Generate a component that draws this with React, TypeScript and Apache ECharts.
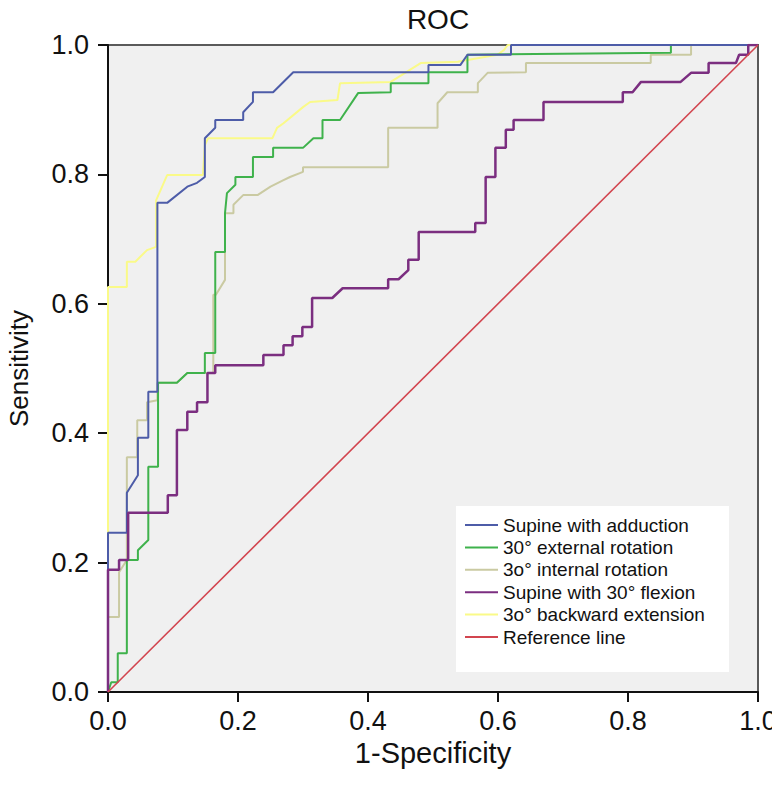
import React, { useEffect, useRef } from "react";
import * as echarts from "echarts";

const TITLE = "ROC";
const X_NAME = "1-Specificity";
const Y_NAME = "Sensitivity";

const seriesNames = [
  "Supine with adduction",
  "30° external rotation",
  "3o° internal rotation",
  "Supine with 30° flexion",
  "3o° backward extension",
  "Reference line",
];

const seriesColors = ["#4d5ca8", "#3fb24c", "#cacaa2", "#7b2e80", "#fafa88", "#d2454f"];

// [1-specificity, sensitivity]
const supineAdduction: [number, number][] = [
  [0, 0], [0, 0.246], [0.029, 0.246], [0.029, 0.308], [0.046, 0.335], [0.046, 0.393],
  [0.062, 0.393], [0.062, 0.464], [0.076, 0.464], [0.076, 0.756], [0.091, 0.756],
  [0.122, 0.781], [0.137, 0.787], [0.149, 0.796], [0.149, 0.856], [0.165, 0.872],
  [0.165, 0.884], [0.208, 0.884], [0.208, 0.896], [0.223, 0.912], [0.223, 0.927],
  [0.254, 0.927], [0.285, 0.958], [0.493, 0.958], [0.493, 0.969], [0.542, 0.969],
  [0.553, 0.985], [0.62, 0.985], [0.62, 1.0], [1, 1],
];

const externalRotation: [number, number][] = [
  [0, 0], [0.005, 0.015], [0.015, 0.015], [0.015, 0.06], [0.029, 0.06], [0.029, 0.204],
  [0.046, 0.204], [0.046, 0.219], [0.062, 0.235], [0.062, 0.348], [0.077, 0.348],
  [0.077, 0.478], [0.106, 0.478], [0.122, 0.493], [0.149, 0.493], [0.149, 0.524],
  [0.165, 0.524], [0.165, 0.68], [0.18, 0.68], [0.18, 0.74], [0.183, 0.771],
  [0.196, 0.784], [0.196, 0.796], [0.223, 0.796], [0.223, 0.827], [0.254, 0.827],
  [0.254, 0.841], [0.3, 0.841], [0.316, 0.856], [0.33, 0.856], [0.33, 0.884],
  [0.357, 0.884], [0.385, 0.926], [0.435, 0.927], [0.435, 0.941], [0.493, 0.941],
  [0.493, 0.958], [0.553, 0.958], [0.553, 0.985], [0.866, 0.988], [0.866, 1.0], [1, 1],
];

const internalRotation: [number, number][] = [
  [0, 0], [0, 0.116], [0.017, 0.116], [0.017, 0.185], [0.029, 0.204], [0.029, 0.363],
  [0.045, 0.363], [0.045, 0.42], [0.06, 0.42], [0.06, 0.448], [0.076, 0.451],
  [0.076, 0.478], [0.106, 0.478], [0.122, 0.493], [0.162, 0.493], [0.162, 0.614],
  [0.166, 0.614], [0.18, 0.637], [0.18, 0.74], [0.193, 0.74], [0.193, 0.753],
  [0.208, 0.768], [0.23, 0.768], [0.25, 0.781], [0.27, 0.791], [0.28, 0.796],
  [0.3, 0.804], [0.3, 0.811], [0.431, 0.811], [0.431, 0.872], [0.507, 0.872],
  [0.507, 0.91], [0.522, 0.927], [0.569, 0.927], [0.569, 0.941], [0.584, 0.957],
  [0.643, 0.958], [0.643, 0.972], [0.835, 0.972], [0.835, 0.985], [0.897, 0.985],
  [0.897, 1.0], [1, 1],
];

const supineFlexion: [number, number][] = [
  [0, 0], [0, 0.189], [0.017, 0.189], [0.017, 0.204], [0.031, 0.204], [0.031, 0.277],
  [0.092, 0.277], [0.092, 0.304], [0.106, 0.304], [0.106, 0.405], [0.122, 0.405],
  [0.122, 0.433], [0.137, 0.433], [0.137, 0.448], [0.153, 0.448], [0.153, 0.493],
  [0.165, 0.493], [0.165, 0.505], [0.239, 0.505], [0.239, 0.521], [0.27, 0.521],
  [0.27, 0.536], [0.284, 0.536], [0.284, 0.55], [0.299, 0.55], [0.299, 0.564],
  [0.314, 0.564], [0.314, 0.609], [0.345, 0.609], [0.361, 0.624], [0.431, 0.624],
  [0.431, 0.638], [0.447, 0.638], [0.462, 0.652], [0.462, 0.668], [0.478, 0.668],
  [0.478, 0.711], [0.565, 0.711], [0.565, 0.725], [0.581, 0.725], [0.581, 0.796],
  [0.596, 0.796], [0.596, 0.841], [0.612, 0.841], [0.612, 0.869], [0.624, 0.869],
  [0.624, 0.884], [0.67, 0.884], [0.67, 0.912], [0.792, 0.912], [0.792, 0.927],
  [0.807, 0.927], [0.82, 0.943], [0.881, 0.943], [0.897, 0.957], [0.924, 0.957],
  [0.924, 0.972], [0.966, 0.972], [0.971, 0.985], [0.985, 0.985], [0.985, 1.0], [1, 1],
];

const backwardExtension: [number, number][] = [
  [0, 0], [0, 0.626], [0.029, 0.626], [0.029, 0.665], [0.042, 0.665], [0.06, 0.683],
  [0.074, 0.688], [0.074, 0.76], [0.091, 0.799], [0.146, 0.799], [0.149, 0.845],
  [0.154, 0.856], [0.253, 0.856], [0.26, 0.872], [0.27, 0.879], [0.3, 0.904],
  [0.311, 0.912], [0.353, 0.915], [0.357, 0.941], [0.435, 0.943], [0.481, 0.972],
  [0.538, 0.974], [0.599, 0.985], [0.609, 0.992], [0.615, 1.0], [1, 1],
];

const referenceLine: [number, number][] = [[0, 0], [1, 1]];

const seriesData = [
  supineAdduction,
  externalRotation,
  internalRotation,
  supineFlexion,
  backwardExtension,
  referenceLine,
];

// drawing order (bottom to top)
const drawOrder = [2, 4, 1, 0, 3, 5];
const lineWidths = [2, 2, 2, 2.5, 2, 1.6];

const FONT = "'Liberation Sans', Arial, Helvetica, sans-serif";

export default function App() {
  const ref = useRef<HTMLDivElement>(null);

  useEffect(() => {
    if (!ref.current) return;
    const chart = echarts.init(ref.current, undefined, { renderer: "svg" });

    const axisCommon = {
      type: "value" as const,
      min: 0,
      max: 1,
      interval: 0.2,
      splitLine: { show: false },
      axisLine: { show: true, lineStyle: { color: "#111", width: 2 } },
      axisTick: { show: true, inside: false, length: 10, lineStyle: { color: "#111", width: 2 } },
    };

    chart.setOption({
      animation: false,
      backgroundColor: "#ffffff",
      title: {
        text: TITLE,
        left: 433,
        textAlign: "center",
        top: 0,
        textStyle: { fontFamily: FONT, fontSize: 28, fontWeight: "normal", color: "#111" },
      },
      grid: {
        left: 108,
        top: 45,
        width: 650,
        height: 647,
        show: true,
        containLabel: false,
        outerBoundsMode: "none",
        backgroundColor: "#f0f0f0",
        borderColor: "#5a5a5a",
        borderWidth: 2,
      },
      xAxis: {
        ...axisCommon,
        name: X_NAME,
        nameLocation: "middle",
        nameGap: 31,
        nameTextStyle: { fontFamily: FONT, fontSize: 29, color: "#111" },
        axisLabel: {
          margin: 15,
          fontFamily: FONT,
          fontSize: 27,
          color: "#111",
          formatter: (v: number) => v.toFixed(1),
        },
      },
      yAxis: {
        ...axisCommon,
        name: Y_NAME,
        nameLocation: "middle",
        nameGap: 76,
        nameTextStyle: { fontFamily: FONT, fontSize: 26, color: "#111" },
        axisLabel: {
          margin: 19,
          fontFamily: FONT,
          fontSize: 27,
          color: "#111",
          formatter: (v: number) => v.toFixed(1),
        },
      },
      graphic: [
        {
          type: "rect",
          shape: { x: 456, y: 506, width: 273, height: 166 },
          style: { fill: "#ffffff" },
          z: 5,
        },
      ],
      legend: {
        orient: "vertical",
        left: 465,
        top: 514,
        padding: 0,
        itemGap: 0.4,
        itemWidth: 33,
        itemHeight: 2,
        icon: "rect",
        z: 10,
        data: seriesNames,
        textStyle: { fontFamily: FONT, fontSize: 19, color: "#111", lineHeight: 22 },
      },
      series: drawOrder.map((i) => ({
        name: seriesNames[i],
        type: "line",
        data: seriesData[i],
        showSymbol: false,
        symbol: "none",
        color: seriesColors[i],
        lineStyle: { color: seriesColors[i], width: lineWidths[i] },
        z: 2,
      })),
    });

    return () => chart.dispose();
  }, []);

  return <div ref={ref} style={{ width: 780, height: 786, margin: -8 }} />;
}
